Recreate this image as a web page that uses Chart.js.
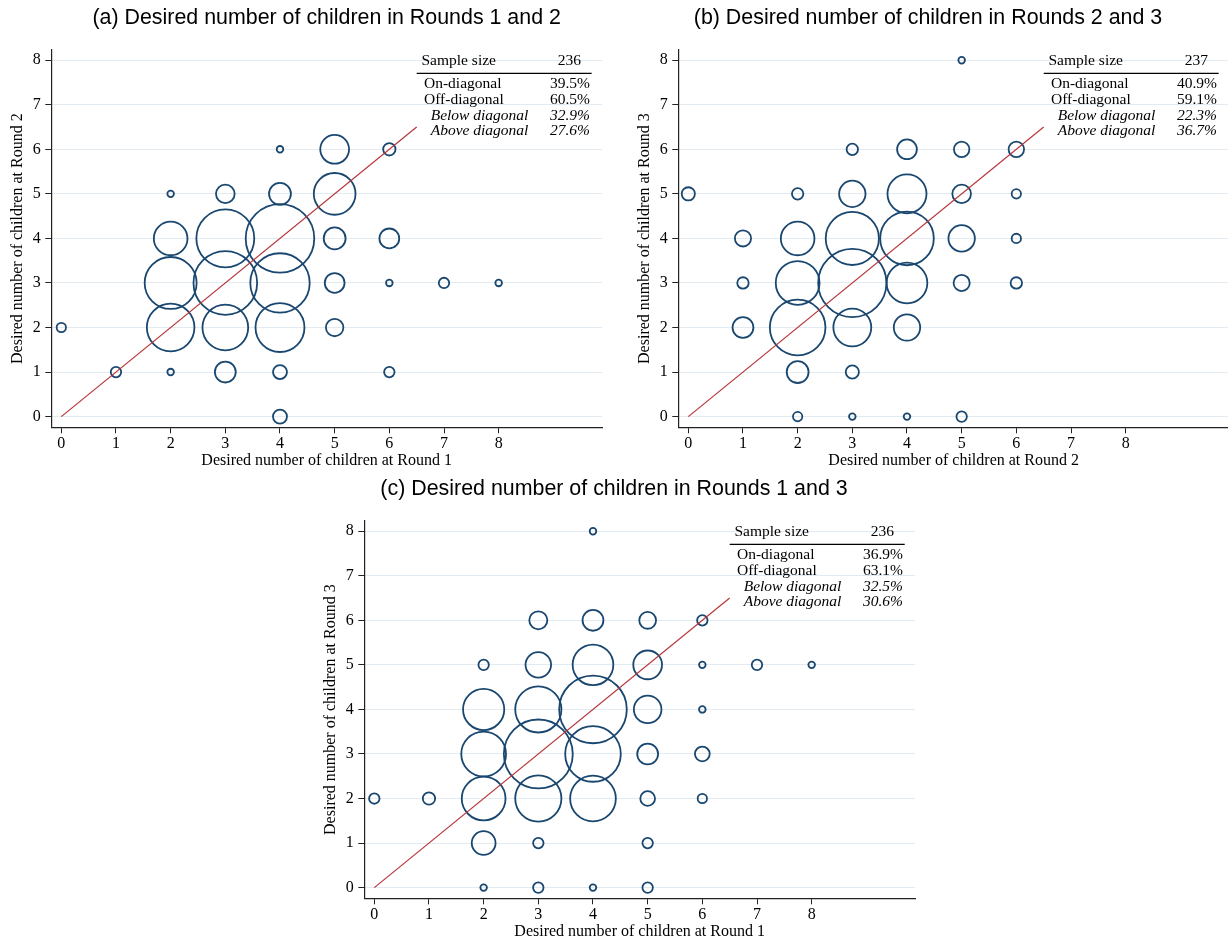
<!DOCTYPE html>
<html>
<head>
<meta charset="utf-8">
<script src="https://cdn.jsdelivr.net/npm/chart.js@4.4.1/dist/chart.umd.min.js"></script>
<style>
  html, body { margin: 0; padding: 0; background: #fff; overflow: hidden; }
  body { width: 1228px; height: 940px; position: relative; }
  .panel { position: absolute; width: 610px; height: 475px; }
  .panel canvas { display: block; }
</style>
</head>
<body>
<div class="panel" style="left:0px;top:0px"><canvas id="chartA" width="610" height="475"></canvas></div>
<div class="panel" style="left:627px;top:0px"><canvas id="chartB" width="610" height="475"></canvas></div>
<div class="panel" style="left:313px;top:471px"><canvas id="chartC" width="610" height="475"></canvas></div>
<script>
// axis ticks shared by all three panels
const xTicks = [0, 1, 2, 3, 4, 5, 6, 7, 8];
const yTicks = [0, 1, 2, 3, 4, 5, 6, 7, 8];
const diagLine = [0, 6.5];
const tableLabels = ["On-diagonal", "Off-diagonal", "Below diagonal", "Above diagonal"];

// (a) Round 1 (x) vs Round 2 (y), bubble weight = frequency of the cell
const titleA = "(a) Desired number of children in Rounds 1 and 2";
const xLabelA = "Desired number of children at Round 1";
const yLabelA = "Desired number of children at Round 2";
const xA = [0, 1, 2, 2, 2, 2, 2, 3, 3, 3, 3, 3, 4, 4, 4, 4, 4, 4, 4, 5, 5, 5, 5, 5, 6, 6, 6, 6, 7, 8];
const yA = [2, 1, 1, 2, 3, 4, 5, 1, 2, 3, 4, 5, 0, 1, 2, 3, 4, 5, 6, 2, 3, 4, 5, 6, 1, 3, 4, 6, 3, 3];
const nA = [2, 2.5, 1, 52, 62, 26, 1, 10, 48, 93, 77, 8, 4.5, 4.5, 55, 81, 108, 11, 1, 7, 9, 11, 40, 19, 2.5, 1, 9, 3.5, 2.5, 1];
const sampleA = 236;
const sharesA = [39.5, 60.5, 32.9, 27.6];

// (b) Round 2 (x) vs Round 3 (y)
const titleB = "(b) Desired number of children in Rounds 2 and 3";
const xLabelB = "Desired number of children at Round 2";
const yLabelB = "Desired number of children at Round 3";
const xB = [0, 1, 1, 1, 2, 2, 2, 2, 2, 2, 3, 3, 3, 3, 3, 3, 3, 4, 4, 4, 4, 4, 4, 5, 5, 5, 5, 5, 5, 6, 6, 6, 6];
const yB = [5, 2, 3, 4, 0, 1, 2, 3, 4, 5, 0, 1, 2, 3, 4, 5, 6, 0, 2, 3, 4, 5, 6, 0, 3, 4, 5, 6, 8, 3, 4, 5, 6];
const nB = [4, 10, 3, 6, 2, 11, 71, 44, 26, 3, 1, 4, 33, 107, 65, 16, 3, 1, 16, 38, 66, 35, 9, 2.5, 6, 16, 8, 5.5, 1, 3, 2, 2, 5.5];
const sampleB = 237;
const sharesB = [40.9, 59.1, 22.3, 36.7];

// (c) Round 1 (x) vs Round 3 (y)
const titleC = "(c) Desired number of children in Rounds 1 and 3";
const xLabelC = "Desired number of children at Round 1";
const yLabelC = "Desired number of children at Round 3";
const xC = [0, 1, 2, 2, 2, 2, 2, 2, 3, 3, 3, 3, 3, 3, 3, 4, 4, 4, 4, 4, 4, 4, 5, 5, 5, 5, 5, 5, 5, 6, 6, 6, 6, 6, 7, 8];
const yC = [2, 2, 0, 1, 2, 3, 4, 5, 0, 1, 2, 3, 4, 5, 6, 0, 2, 3, 4, 5, 6, 8, 0, 1, 2, 3, 4, 5, 6, 2, 3, 4, 5, 6, 5, 5];
const nC = [2.5, 3.5, 1, 13, 44, 46, 39, 2.5, 2.5, 2.5, 49, 109, 49, 15, 7.5, 1, 48, 71, 105, 38, 10, 1, 2.5, 2.5, 5, 10, 17.5, 19, 6.5, 2, 5, 1, 1, 2.5, 2.5, 1];
const sampleC = 236;
const sharesC = [36.9, 63.1, 32.5, 30.6];

const navy = "#1a476f";
const red = "#b5363a";
const gridColor = "#e2ebf2";
const axisColor = "#222";
const serif = "'Liberation Serif', 'Times New Roman', serif";
const sans = "'Liberation Sans', Arial, sans-serif";
const bubbleScale = 3.3;

// small table of diagonal shares in the top right corner
const tablePlugin = {
  id: "diagTable",
  afterDraw(chart, args, opts) {
    const ctx = chart.ctx;
    const R = chart.chartArea.right;
    const T = chart.chartArea.top;
    ctx.save();
    ctx.fillStyle = "#000";
    ctx.textBaseline = "middle";
    ctx.font = "15.5px " + serif;
    ctx.textAlign = "left";
    ctx.fillText("Sample size", R - 180.5, T + 11);
    ctx.textAlign = "center";
    ctx.fillText(String(opts.sample), R - 32.7, T + 11);

    ctx.strokeStyle = "#000";
    ctx.lineWidth = 1.3;
    ctx.beginPath();
    ctx.moveTo(R - 185.3, T + 23.3);
    ctx.lineTo(R - 10.3, T + 23.3);
    ctx.stroke();

    const rowY = [34.3, 50.3, 65.7, 81.3];
    for (let i = 0; i < tableLabels.length; i++) {
      const italic = i >= 2;
      ctx.font = (italic ? "italic " : "") + "15.5px " + serif;
      ctx.textAlign = "left";
      ctx.fillText(tableLabels[i], R - (italic ? 171.3 : 178), T + rowY[i]);
      ctx.textAlign = "right";
      ctx.fillText(opts.shares[i].toFixed(1) + "%", R - 12, T + rowY[i]);
    }
    ctx.restore();
  }
};

// titleOverPlot: centre the title on the plot area (a) or on the whole panel (b, c)
function makeChart(canvasId, title, xLabel, yLabel, xs, ys, ns, sample, shares, titleOverPlot) {
  const points = [];
  for (let i = 0; i < xs.length; i++) {
    points.push({ x: xs[i], y: ys[i], r: bubbleScale * Math.sqrt(ns[i]) });
  }

  return new Chart(canvasId, {
    type: "bubble",
    data: {
      datasets: [
        {
          type: "line",
          data: diagLine.map(v => ({ x: v, y: v })),
          borderColor: red,
          borderWidth: 1.2,
          pointRadius: 0,
          fill: false,
          tension: 0,
          order: 0
        },
        {
          data: points,
          borderColor: navy,
          backgroundColor: "rgba(0,0,0,0)",
          borderWidth: 1.8,
          clip: false,
          order: 1
        }
      ]
    },
    options: {
      responsive: false,
      animation: false,
      layout: { autoPadding: false, padding: { left: 0, right: 8, top: 0, bottom: 0 } },
      plugins: {
        legend: { display: false },
        tooltip: { enabled: false },
        title: {
          display: true,
          text: title,
          fullSize: !titleOverPlot,
          color: "#000",
          font: { family: sans, size: 21.4, weight: "normal" },
          padding: { top: 5.2, bottom: 19.1 }
        },
        diagTable: { sample: sample, shares: shares }
      },
      scales: {
        x: {
          type: "linear",
          min: -0.183,
          max: 9.89,
          afterBuildTicks: s => { s.ticks = xTicks.map(v => ({ value: v })); },
          afterFit: s => { s.height = 47.7; },
          grid: { color: "rgba(0,0,0,0)", tickColor: axisColor, tickLength: 6, drawTicks: true },
          border: { display: true, color: axisColor, width: 1.2 },
          ticks: { color: "#000", font: { family: serif, size: 16 }, padding: 1, maxRotation: 0, autoSkip: false },
          title: { display: true, text: xLabel, color: "#000", font: { family: serif, size: 16 }, padding: { top: 0, bottom: 4.7 } }
        },
        y: {
          type: "linear",
          min: -0.24,
          max: 8.23,
          afterBuildTicks: s => { s.ticks = yTicks.map(v => ({ value: v })); },
          afterFit: s => { s.width = 51.3; },
          grid: { color: gridColor, lineWidth: 1, tickColor: axisColor, tickLength: 6, drawTicks: true },
          border: { display: true, color: axisColor, width: 1.2 },
          ticks: { color: "#000", font: { family: serif, size: 16 }, padding: 4.5, autoSkip: false },
          title: { display: true, text: yLabel, color: "#000", font: { family: serif, size: 16 }, padding: { top: 8.4, bottom: 0 } }
        }
      }
    },
    plugins: [tablePlugin]
  });
}

makeChart("chartA", titleA, xLabelA, yLabelA, xA, yA, nA, sampleA, sharesA, true);
makeChart("chartB", titleB, xLabelB, yLabelB, xB, yB, nB, sampleB, sharesB, false);
makeChart("chartC", titleC, xLabelC, yLabelC, xC, yC, nC, sampleC, sharesC, false);
</script>
</body>
</html>
